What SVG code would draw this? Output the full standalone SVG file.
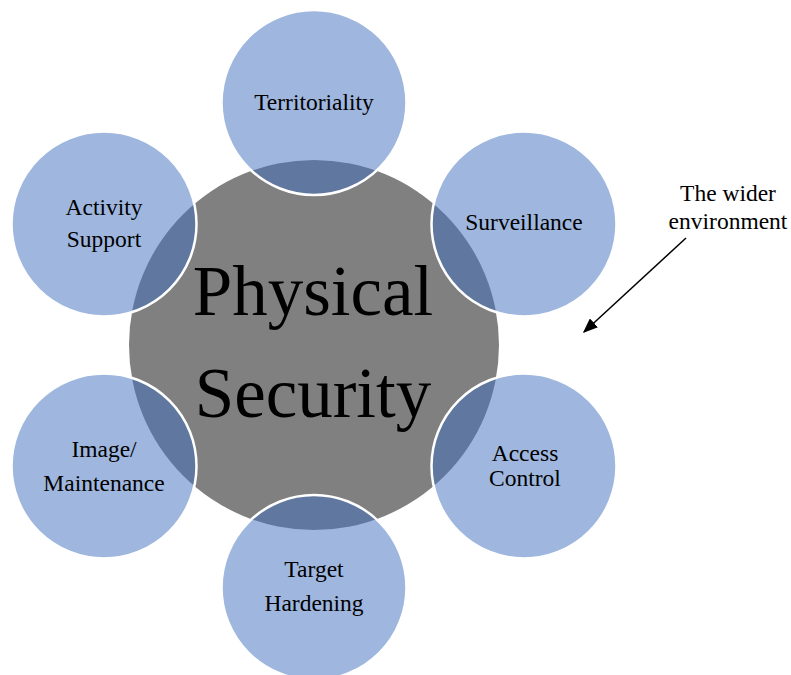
<svg xmlns="http://www.w3.org/2000/svg" width="791" height="675" viewBox="0 0 791 675">
  <style>
    .core { fill: #808080; }
    .petal { fill: #4070c0; fill-opacity: 0.5; stroke: #ffffff; stroke-width: 2.5; }
    text { font-family: 'Liberation Serif', serif; fill: #000000; text-anchor: middle; }
    .lbl { font-size: 23.5px; }
    .big { font-size: 71px; }
    .conn { stroke: #000000; stroke-width: 1.5; fill: none; }
  </style>
  <defs>
    <marker id="arrowhead" viewBox="0 0 10 10" refX="9" refY="5" markerWidth="15" markerHeight="12" markerUnits="userSpaceOnUse" orient="auto" preserveAspectRatio="none">
      <path d="M0,0 L10,5 L0,10 Z" fill="#000000"/>
    </marker>
  </defs>

  <rect width="791" height="675" fill="#ffffff"/>

  <!-- central hub -->
  <g id="physical-security">
    <circle class="core" cx="314" cy="345" r="185"/>
  </g>

  <!-- surrounding principles -->
  <g id="territoriality">
    <circle class="petal" cx="314" cy="102.5" r="92.5"/>
    <text class="lbl" x="314" y="110">Territoriality</text>
  </g>
  <g id="surveillance">
    <circle class="petal" cx="524" cy="224" r="92.5"/>
    <text class="lbl" x="524" y="230">Surveillance</text>
  </g>
  <g id="access-control">
    <circle class="petal" cx="524" cy="466" r="92.5"/>
    <text class="lbl" x="525" y="461">Access</text>
    <text class="lbl" x="525" y="486">Control</text>
  </g>
  <g id="target-hardening">
    <circle class="petal" cx="314" cy="587.5" r="92.5"/>
    <text class="lbl" x="314" y="577">Target</text>
    <text class="lbl" x="314" y="611">Hardening</text>
  </g>
  <g id="image-maintenance">
    <circle class="petal" cx="104" cy="466" r="92.5"/>
    <text class="lbl" x="104" y="457">Image/</text>
    <text class="lbl" x="104" y="491">Maintenance</text>
  </g>
  <g id="activity-support">
    <circle class="petal" cx="104" cy="224" r="92.5"/>
    <text class="lbl" x="104" y="215">Activity</text>
    <text class="lbl" x="104" y="247">Support</text>
  </g>

  <!-- hub title drawn above the petals -->
  <g id="physical-security-title">
    <text class="big" x="313" y="315">Physical</text>
    <text class="big" x="313" y="417">Security</text>
  </g>

  <!-- annotation -->
  <g id="wider-environment">
    <text class="lbl" x="728" y="201">The wider</text>
    <text class="lbl" x="728" y="229">environment</text>
  </g>

  <g id="connectors">
    <line class="conn" x1="686" y1="238" x2="584" y2="332" marker-end="url(#arrowhead)"/>
  </g>
</svg>
